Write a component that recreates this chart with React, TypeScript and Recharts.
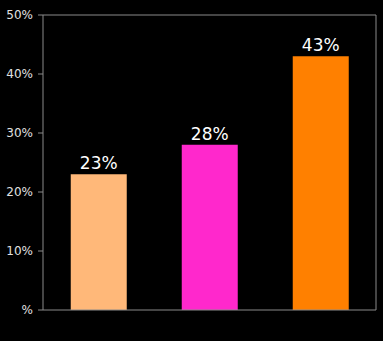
import { BarChart, Bar, XAxis, YAxis, Cell, LabelList, ReferenceLine } from "recharts";

const categories = ["A", "B", "C"];
const shares = [23, 28, 43];
const barColors = ["#FFB879", "#FF28CC", "#FF8000"];
const yTicks = [0, 10, 20, 30, 40, 50];

const data = categories.map((name, i) => ({ name, value: shares[i] }));

const axisColor = "#8a8a8a";
const tickStyle = { fill: "#e0e0e0", fontSize: 12, fontFamily: "DejaVu Sans" };

const App = () => {
  return (
    <div style={{ position: "absolute", left: 0, top: 0, width: 383, height: 341, background: "#000" }}>
      <BarChart width={383} height={341} data={data} margin={{ top: 15, right: 0, bottom: 0, left: 0 }} barCategoryGap="25%">
        <XAxis
          xAxisId="grid"
          type="number"
          domain={[0, 3]}
          ticks={[0, 1, 2, 3]}
          height={31}
          tick={false}
          tickSize={5}
          stroke={axisColor}
          allowDataOverflow
        />
        <XAxis xAxisId="cat" dataKey="name" hide height={0} />
        <YAxis
          yAxisId="left"
          domain={[0, 50]}
          ticks={yTicks}
          width={43}
          tickSize={5}
          tickMargin={5}
          tickFormatter={(v: number) => (v === 0 ? "%" : `${v}%`)}
          tick={tickStyle}
          stroke={axisColor}
        />
        <YAxis yAxisId="right" orientation="right" width={7} domain={[0, 50]} tick={false} tickLine={false} stroke={axisColor} />
        <ReferenceLine yAxisId="left" xAxisId="grid" y={50} stroke={axisColor} />
        <Bar dataKey="value" xAxisId="cat" yAxisId="left" isAnimationActive={false}>
          {data.map((d, i) => (
            <Cell key={d.name} fill={barColors[i]} />
          ))}
          <LabelList
            dataKey="value"
            position="top"
            offset={5}
            formatter={(v: any) => `${v}%`}
            style={{ fill: "#ffffff", fontSize: 17, fontFamily: "DejaVu Sans" }}
          />
        </Bar>
      </BarChart>
    </div>
  );
};

export default App;
